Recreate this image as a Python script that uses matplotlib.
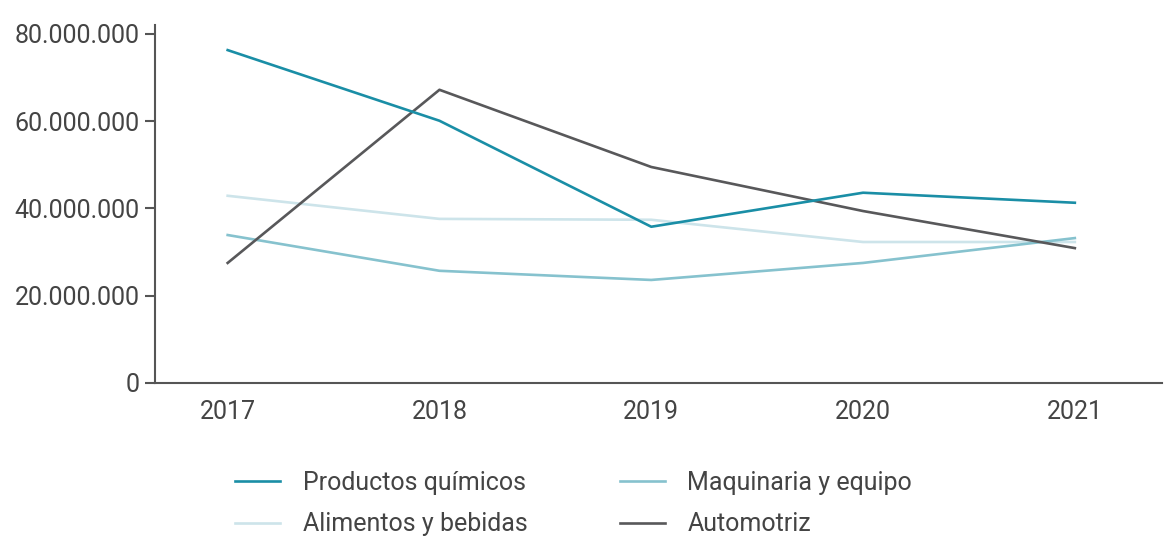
import matplotlib
matplotlib.use("Agg")
import matplotlib.pyplot as plt
from matplotlib.ticker import FuncFormatter

years = [2017, 2018, 2019, 2020, 2021]
productos_quimicos = [76.3e6, 60.1e6, 35.8e6, 43.6e6, 41.3e6]
alimentos_bebidas = [42.9e6, 37.6e6, 37.4e6, 32.3e6, 32.3e6]
maquinaria_equipo = [33.9e6, 25.7e6, 23.6e6, 27.5e6, 33.2e6]
automotriz = [27.5e6, 67.2e6, 49.5e6, 39.4e6, 30.9e6]

text_color = "#444444"
plt.rcParams["font.family"] = ["Roboto", "DejaVu Sans"]

fig = plt.figure(figsize=(11.64, 5.37), dpi=100)
ax = fig.add_axes([0.133, 0.287, 0.865, 0.666])

# draw order: lighter lines underneath
l_alim, = ax.plot(years, alimentos_bebidas, color="#cde4ea", lw=1.9, label="Alimentos y bebidas")
l_maq, = ax.plot(years, maquinaria_equipo, color="#86c2ce", lw=1.9, label="Maquinaria y equipo")
l_auto, = ax.plot(years, automotriz, color="#58585a", lw=1.9, label="Automotriz")
l_prod, = ax.plot(years, productos_quimicos, color="#1a8ea6", lw=1.9, label="Productos químicos")

ax.set_xlim(2016.656, 2021.41)
ax.set_ylim(0, 82e6)
ax.set_xticks(years)
ax.set_yticks([0, 20e6, 40e6, 60e6, 80e6])
ax.yaxis.set_major_formatter(FuncFormatter(lambda v, p: f"{int(v):,}".replace(",", ".")))

for s in ["top", "right"]:
    ax.spines[s].set_visible(False)
for s in ["left", "bottom"]:
    ax.spines[s].set_color("#555555")
    ax.spines[s].set_linewidth(1.5)

ax.tick_params(axis="y", length=7, width=1.5, color="#555555", labelsize=18, labelcolor=text_color, pad=4)
ax.tick_params(axis="x", length=0, labelsize=18, labelcolor=text_color, pad=12)

fig.legend([l_prod, l_alim, l_maq, l_auto],
           ["Productos químicos", "Alimentos y bebidas", "Maquinaria y equipo", "Automotriz"],
           ncol=2, frameon=False, loc="center left", bbox_to_anchor=(0.2019, 0.062),
           borderaxespad=0, borderpad=0,
           fontsize=18, labelcolor=text_color, handlelength=1.8, handletextpad=0.9,
           columnspacing=3.7, labelspacing=0.7)

plt.savefig("out.png", dpi=100)
plt.close()
